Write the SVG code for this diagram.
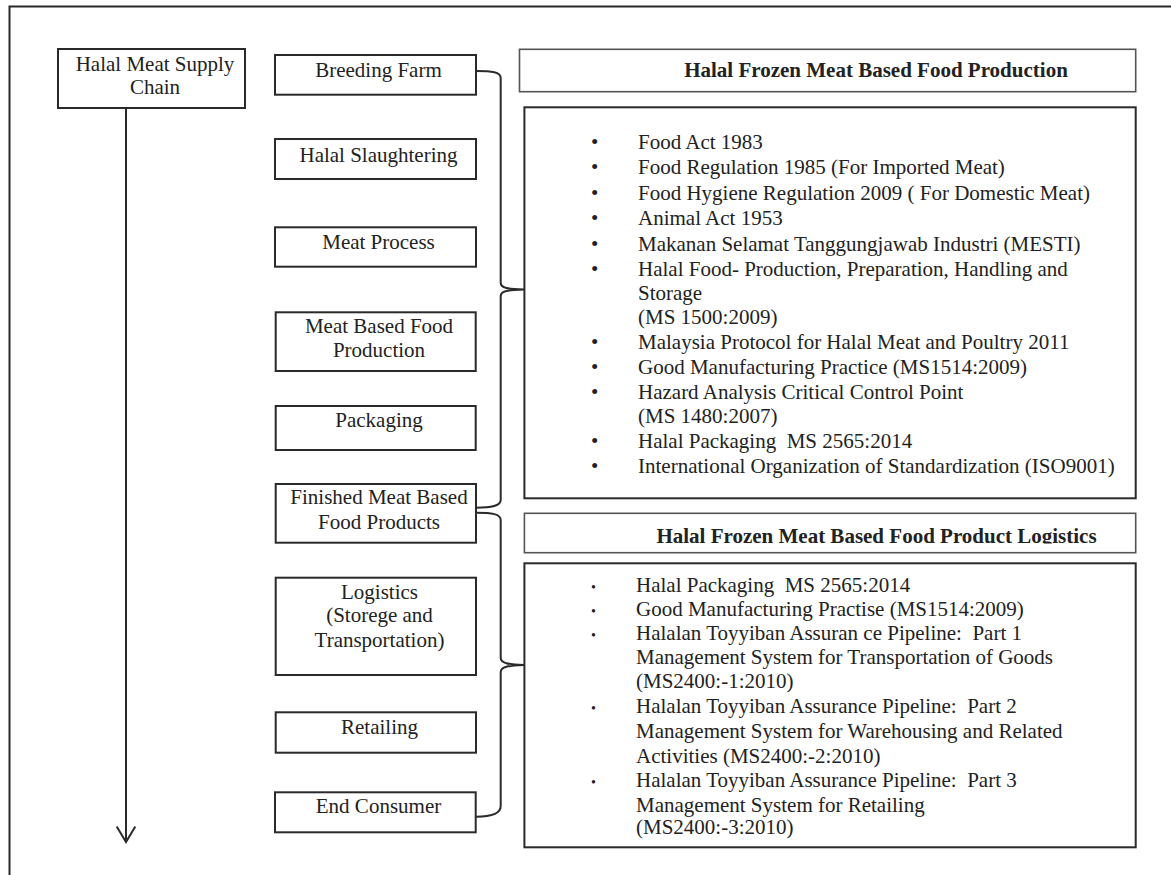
<svg xmlns="http://www.w3.org/2000/svg" width="1171" height="875" viewBox="0 0 1171 875">
<style>
text{font-family:"Liberation Serif","Times New Roman",serif;fill:#222;white-space:pre}
.lbl{font-size:21px;text-anchor:middle}
.li{font-size:21px}
.ttl{font-size:21px;font-weight:bold;text-anchor:middle}
.box{fill:#fff;stroke:#2a2a2a;stroke-width:2}
.tbox{fill:#fff;stroke:#555;stroke-width:1.6}
.ln{fill:none;stroke:#2a2a2a;stroke-width:2}
.b1{font-size:21px}
.b2{font-size:14px}
</style>
<defs>
<clipPath id="clipT2"><rect x="520" y="510" width="620" height="33.5"/></clipPath>
</defs>
<rect width="1171" height="875" fill="#fff"/>
<path class="ln" d="M9.5,875 V6.5 H1171"/>

<g id="connectors">
<path class="ln" d="M126,108 V841"/>
<path class="ln" d="M116.7,826.5 L126,842 L135.3,826.5"/>
<path class="ln" d="M476,71 C492,71 500.7,72 500.7,78 V283 C500.7,288 508,289 524,289.5 C508,290 500.7,291 500.7,296 V500 C500.7,506 492,507.7 476,507.7"/>
<path class="ln" d="M476,512.7 C492,512.7 500.7,514 500.7,520 V658 C500.7,663 508,664.5 524,665 C508,665.5 500.7,667 500.7,672 V806 C500.7,813 492,816.7 476,816.7"/>
</g>

<g id="n-chain">
<rect class="box" x="58" y="49" width="187" height="59"/>
<text class="lbl" x="155" y="70.7">Halal Meat Supply</text>
<text class="lbl" x="155" y="94">Chain</text>
</g>

<g id="n-breeding">
<rect class="box" x="275" y="55" width="201" height="39.7"/>
<text class="lbl" x="378.5" y="77.3">Breeding Farm</text>
</g>
<g id="n-slaughter">
<rect class="box" x="275" y="139" width="201" height="40"/>
<text class="lbl" x="378.5" y="161.7">Halal Slaughtering</text>
</g>
<g id="n-process">
<rect class="box" x="275" y="227.3" width="201" height="39.4"/>
<text class="lbl" x="378.5" y="249">Meat Process</text>
</g>
<g id="n-foodprod">
<rect class="box" x="275.7" y="312.3" width="200" height="58.7"/>
<text class="lbl" x="379" y="333.3">Meat Based Food</text>
<text class="lbl" x="379" y="357.3">Production</text>
</g>
<g id="n-packaging">
<rect class="box" x="275.7" y="406" width="200" height="44"/>
<text class="lbl" x="379" y="426.7">Packaging</text>
</g>
<g id="n-finished">
<rect class="box" x="275.7" y="484" width="200.3" height="58.7"/>
<text class="lbl" x="379" y="504.3">Finished Meat Based</text>
<text class="lbl" x="379" y="529.3">Food Products</text>
</g>
<g id="n-logistics">
<rect class="box" x="275.7" y="577.7" width="200.3" height="97.3"/>
<text class="lbl" x="379.5" y="599.3">Logistics</text>
<text class="lbl" x="379.5" y="622.3">(Storege and</text>
<text class="lbl" x="379.5" y="647.3">Transportation)</text>
</g>
<g id="n-retailing">
<rect class="box" x="275.7" y="712.3" width="200.3" height="40.4"/>
<text class="lbl" x="379.5" y="734">Retailing</text>
</g>
<g id="n-consumer">
<rect class="box" x="275" y="792.3" width="200.7" height="40"/>
<text class="lbl" x="378.5" y="813.3">End Consumer</text>
</g>

<g id="n-title1">
<rect class="tbox" x="519.5" y="49.3" width="616.2" height="42.4"/>
<text class="ttl" x="876" y="77.3">Halal Frozen Meat Based Food Production</text>
</g>

<g id="n-list1">
<rect class="box" x="524.4" y="107.3" width="611.3" height="391"/>
<g class="b1">
<text x="591" y="149">•</text>
<text x="591" y="174.3">•</text>
<text x="591" y="200">•</text>
<text x="591" y="225.3">•</text>
<text x="591" y="250.7">•</text>
<text x="591" y="276">•</text>
<text x="591" y="349">•</text>
<text x="591" y="374.3">•</text>
<text x="591" y="399.3">•</text>
<text x="591" y="447.7">•</text>
<text x="591" y="473.3">•</text>
</g>
<text class="li" x="638" y="149">Food Act 1983</text>
<text class="li" x="638" y="174.3">Food Regulation 1985 (For Imported Meat)</text>
<text class="li" x="638" y="200">Food Hygiene Regulation 2009 ( For Domestic Meat)</text>
<text class="li" x="638" y="225.3">Animal Act 1953</text>
<text class="li" x="638" y="250.7">Makanan Selamat Tanggungjawab Industri (MESTI)</text>
<text class="li" x="638" y="276">Halal Food- Production, Preparation, Handling and</text>
<text class="li" x="638" y="299.5">Storage</text>
<text class="li" x="638" y="324">(MS 1500:2009)</text>
<text class="li" x="638" y="349">Malaysia Protocol for Halal Meat and Poultry 2011</text>
<text class="li" x="638" y="374.3">Good Manufacturing Practice (MS1514:2009)</text>
<text class="li" x="638" y="399.3">Hazard Analysis Critical Control Point</text>
<text class="li" x="638" y="422.7">(MS 1480:2007)</text>
<text class="li" x="638" y="447.7">Halal Packaging  MS 2565:2014</text>
<text class="li" x="638" y="473.3">International Organization of Standardization (ISO9001)</text>
</g>

<g id="n-title2">
<rect class="tbox" x="524.4" y="513.3" width="611.3" height="39.4"/>
<text class="ttl" x="876.5" y="542.5" clip-path="url(#clipT2)">Halal Frozen Meat Based Food Product Logistics</text>
</g>

<g id="n-list2">
<rect class="box" x="524.4" y="563.3" width="611.3" height="284"/>
<g class="b2">
<text x="591" y="591.7">•</text>
<text x="591" y="616">•</text>
<text x="591" y="640">•</text>
<text x="591" y="713.3">•</text>
<text x="591" y="786.7">•</text>
</g>
<text class="li" x="636" y="591.7">Halal Packaging  MS 2565:2014</text>
<text class="li" x="636" y="616">Good Manufacturing Practise (MS1514:2009)</text>
<text class="li" x="636" y="640">Halalan Toyyiban Assuran ce Pipeline:  Part 1</text>
<text class="li" x="636" y="664">Management System for Transportation of Goods</text>
<text class="li" x="636" y="688.3">(MS2400:-1:2010)</text>
<text class="li" x="636" y="713.3">Halalan Toyyiban Assurance Pipeline:  Part 2</text>
<text class="li" x="636" y="738.3">Management System for Warehousing and Related</text>
<text class="li" x="636" y="762.7">Activities (MS2400:-2:2010)</text>
<text class="li" x="636" y="786.7">Halalan Toyyiban Assurance Pipeline:  Part 3</text>
<text class="li" x="636" y="811.7">Management System for Retailing</text>
<text class="li" x="636" y="834">(MS2400:-3:2010)</text>
</g>
</svg>
